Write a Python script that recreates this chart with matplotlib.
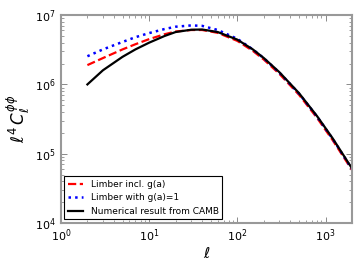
import numpy as np
import matplotlib
matplotlib.use("Agg")
import matplotlib.pyplot as plt

# multipoles and l^4 C_l^phiphi
ell = [2, 3, 5, 7, 10, 15, 20, 30, 40, 60, 100, 150, 200, 300, 500, 800, 1200, 2000]
camb = [1.0e6, 1.6e6, 2.5e6, 3.2e6, 4.0e6, 5.0e6, 5.7e6, 6.15e6, 6.2e6, 5.7e6,
        4.43e6, 3.2e6, 2.4e6, 1.5e6, 7.5e5, 3.5e5, 1.68e5, 6.1e4]
limber_g = [1.9e6, 2.4e6, 3.2e6, 3.8e6, 4.5e6, 5.3e6, 5.8e6, 6.1e6, 6.1e6, 5.55e6,
            4.25e6, 3.05e6, 2.28e6, 1.42e6, 7.1e5, 3.3e5, 1.58e5, 5.8e4]
limber_1 = [2.55e6, 3.2e6, 4.1e6, 4.8e6, 5.5e6, 6.3e6, 6.8e6, 7.1e6, 7.0e6, 6.1e6,
            4.55e6, 3.2e6, 2.38e6, 1.48e6, 7.4e5, 3.45e5, 1.65e5, 6.0e4]

labels = ["Limber incl. g(a)", "Limber with g(a)=1", "Numerical result from CAMB"]

fig = plt.figure(figsize=(3.6, 2.7), dpi=100)
ax = fig.add_axes([0.169, 0.174, 0.809, 0.770])

ax.plot(ell, limber_g, "--", color="red", lw=1.6, label=labels[0])
ax.plot(ell, limber_1, ":", color="blue", lw=1.8, label=labels[1])
ax.plot(ell, camb, "-", color="black", lw=1.6, label=labels[2])

ax.set_xscale("log")
ax.set_yscale("log")
ax.set_xlim(1, 2000)
ax.set_ylim(1e4, 1e7)

for s in ax.spines.values():
    s.set_color("#999999")
    s.set_linewidth(1.5)
ax.tick_params(which="both", direction="in", colors="#777777", labelcolor="black",
               top=True, right=True, labelsize=8)
ax.tick_params(which="major", length=4, width=0.6)
ax.tick_params(which="minor", length=2, width=0.5)

ax.set_xlabel(r"$\ell$", fontsize=11, labelpad=1)
ax.set_ylabel(r"$\ell^4\, C_\ell^{\phi\phi}$", fontsize=12, labelpad=2)

leg = ax.legend(loc="lower left", fontsize=6.5, fancybox=False, framealpha=1,
                edgecolor="black", handlelength=1.7, borderaxespad=0.4)
leg.get_frame().set_linewidth(0.8)

fig.savefig("out.png", dpi=100)
